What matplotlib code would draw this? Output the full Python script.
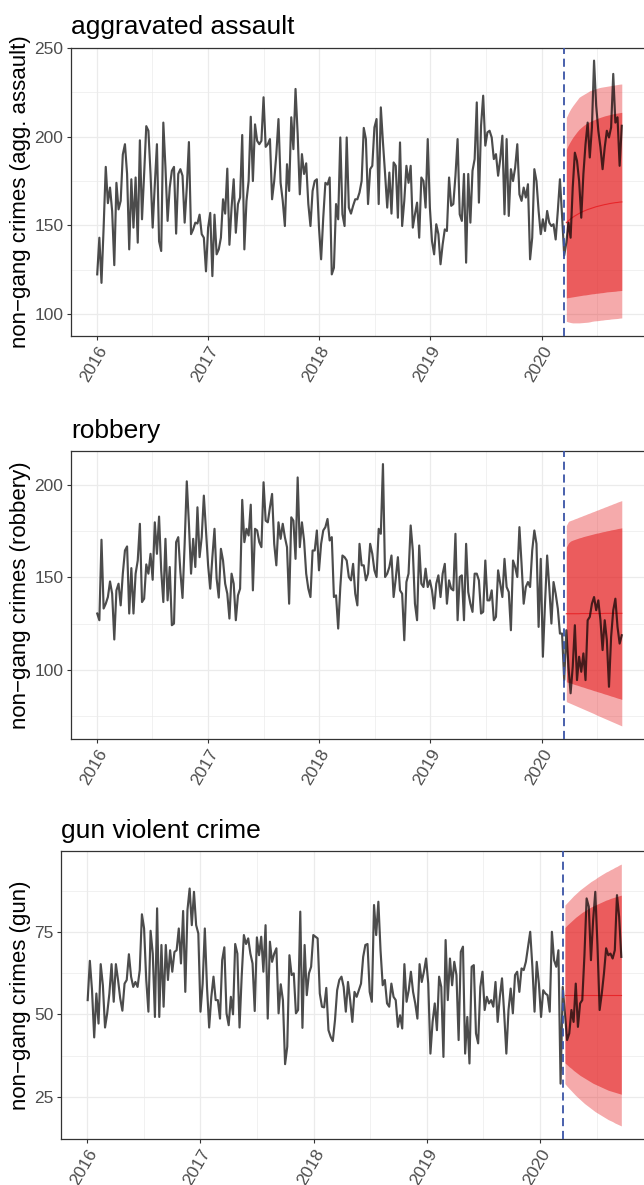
import numpy as np
import pandas as pd
import matplotlib
matplotlib.use('Agg')
import matplotlib.pyplot as plt
import matplotlib.dates as mdates

plt.rcParams['font.family'] = ['Liberation Sans', 'DejaVu Sans']

# weekly counts, 2016-01-03 .. 2020-09-20
weeks = pd.date_range('2016-01-03', periods=247, freq='7D')
fc_weeks = pd.date_range('2020-03-22', periods=27, freq='7D')
cutoff = pd.Timestamp('2020-03-15')
years = ['2016', '2017', '2018', '2019', '2020']

assault = [
    122.3, 143, 117.5, 148.7, 183, 162.5, 171.3, 158, 127.5, 174,
    159, 163.8, 190, 195.8, 179, 136.4, 176, 148.7, 177, 140.2,
    198, 153.4, 179, 206, 203.4, 179, 148.7, 173, 195.8, 141,
    135.5, 208, 182.6, 152.5, 171.3, 180.8, 183, 145.3, 179, 181.7,
    178, 151.5, 171.3, 197, 145, 147.7, 151.5, 151, 156, 145,
    143, 124, 148.7, 157, 121.3, 156, 133.6, 136.4, 143, 164.7,
    156.6, 182, 139, 160, 176, 145.8, 162, 165.7, 201, 136.4,
    163.8, 175, 211.3, 175, 207, 197.7,
    195.8, 197.7, 222.3, 194.3, 195.8, 198.7, 164.7, 175, 190.2, 210,
    174, 163.8, 149.6, 184.5, 169.4, 211, 193, 227, 201.5, 167.5,
    190.2, 179, 185, 162, 149.6, 169.4, 175, 176, 148.7, 130.8,
    154.3, 174, 173, 177, 122.3, 126, 162, 153.4, 199.6, 156.2,
    149.6, 199.6, 160, 156.6, 161, 164.7, 164.7, 168.5, 175, 205,
    198.7, 162, 181.7, 183.6, 205.3, 210, 162, 216.6, 196.8, 179,
    160, 179.8, 156.6, 185.5, 183.6, 154.3, 196.8, 149.6, 163.8, 183.6,
    174, 183.6, 148.7, 156.2, 162.8, 143, 177, 175, 160, 198.7,
    160, 141, 133.6, 150.6, 145, 128, 139.2, 147.7, 146.8, 177,
    161, 162, 178, 198.7, 156.2, 152.5, 179, 128.9, 179, 151.5,
    180.8, 187.4, 219.4, 162.8, 206.2, 223.2, 195, 202.5, 203.4, 199.6,
    187.4, 190.2, 178, 187.4, 200.6, 156.2, 198.7, 155.3, 181.7, 175,
    182.6, 195.8, 167.5, 163.8, 171.3, 165.7, 173.2, 130.8, 143, 181.7,
    175, 158.1, 145, 153.4, 146.8, 158.1, 151.5, 149.6, 150.6, 142,
    158.1, 176, 155.3, 133,
    140.2, 151.5, 143, 171.3, 191, 186.4, 175, 154.3, 179, 195.8,
    208, 188.3, 205.3, 243, 217.5, 203.4, 194, 181.7, 194, 203.4,
    199.6, 205.3, 235.5, 208, 211, 183.6, 206.2,
]
assault_mean = [151.5, 152.6, 153.6, 154.5, 155.3, 156.0, 156.7, 157.3, 157.9, 158.4,
                158.9, 159.3, 159.7, 160.1, 160.5, 160.8, 161.1, 161.4, 161.7, 161.9,
                162.2, 162.4, 162.6, 162.8, 162.9, 163.1, 163.2]
assault_hi80 = [193.0, 195.5, 197.6, 199.6, 201.2, 202.8, 204.2, 205.3, 206.3, 207.2,
                207.9, 208.5, 209.1, 209.6, 210.1, 210.6, 211.0, 211.4, 211.8, 212.1,
                212.4, 212.7, 213.0, 213.2, 213.4, 213.6, 213.8]
assault_hi95 = [210.9, 213.5, 215.7, 217.5, 219.1, 220.7, 222.3, 223.1, 223.8, 224.5,
                225.2, 226.0, 226.4, 226.8, 227.2, 227.6, 227.9, 228.1, 228.3, 228.5,
                228.7, 228.9, 229.1, 229.3, 229.5, 229.7, 229.8]
assault_lo80 = [109.0, 109.2, 109.4, 109.6, 109.8, 110.0, 110.2, 110.4, 110.6, 110.7,
                110.9, 111.1, 111.3, 111.4, 111.6, 111.7, 111.9, 112.0, 112.2, 112.4,
                112.5, 112.6, 112.7, 112.8, 113.0, 113.1, 113.2]
assault_lo95 = [95.8, 95.4, 95.1, 94.9, 94.9, 94.9, 94.9, 95.0, 95.1, 95.2,
                95.3, 95.5, 95.8, 96.0, 96.1, 96.2, 96.4, 96.5, 96.7, 96.8,
                96.9, 97.1, 97.2, 97.3, 97.4, 97.6, 97.7]

robbery = [
    130.5, 126.9, 170.3, 133.2, 135.8, 139.4, 147.8, 141.2, 116.5, 143,
    146.6, 134.9, 152, 164.5, 166.7, 130.5, 155, 130.5, 152, 159.1,
    178.9, 136.7, 138.5, 157, 152, 162.7, 148.7, 179.7, 162.7, 182.8,
    153.8, 136.7, 170.8, 137.6, 155.6, 124.2, 125.1, 169, 171.7, 152.9,
    138.9, 168.1, 201.8, 178.9, 152, 170.8, 155.6, 187.8, 160.9, 171.7,
    194.1, 175.3, 156.5, 143.9, 160.9, 176.2, 149.3, 139.1, 165.4, 159.1,
    146.6, 141.2, 127.8, 152, 146.6, 126.9, 140.3, 143.9, 191.8, 169,
    176.2, 172.6, 189.2, 143, 176.2, 175.3, 169,
    166.3, 201.3, 180.6, 179.7, 187.8, 195, 168.1, 156.5, 179.7, 170.8,
    178.9, 171.7, 166.3, 135.8, 182.4, 180.6, 160, 203.9, 166.3, 179.7,
    169.9, 152, 143.9, 139.4, 164.5, 164.5, 175.3, 153.8, 168.1, 175.3,
    177.1, 181.5, 169.9, 171.7, 139.4, 140.3, 122.4, 144.8, 161.8, 160.9,
    159.1, 150.2, 148.4, 157.3, 141.2, 134.9, 168.1, 156.5, 156.5, 148.4,
    152, 168.1, 162.7, 153.8, 150.2, 176.2, 173.5, 211.1, 150.2, 152,
    155.6, 161.8, 139.4, 149.3, 160.9, 143, 141.2, 116.1, 147.5, 152,
    178, 164.5, 135.8, 126.9, 167.2, 146.6, 144.8, 154.7, 144.8, 148.4,
    143, 133.2, 146.6, 151.1, 139.4, 152, 157.3, 135.8, 148.4,
    143.9, 143, 173.5, 126.9, 150.2, 151.1, 126.9, 168.1, 142.1, 135.8,
    131.4, 152, 152, 148.4, 130.5, 131.4, 159.1, 137.6, 137.6, 143,
    126.9, 128.7, 153.8, 146.6, 139.4, 160, 144.8, 142.1, 121.5, 159.1,
    155.6, 150.2, 177.1, 157.3, 135.8, 144.8, 147.5, 144.8, 164.5, 175.3,
    168.1, 123.3, 160, 107.2, 135.8, 161.8, 144.8, 125.1, 147.5, 141.2,
    133.2, 119.7, 119.7, 94.6,
    121.5, 101.8, 87.5, 101.8, 124.2, 94.6, 107.2, 99.1, 109, 94.6,
    126.9, 128.7, 135.8, 139.4, 132.3, 137.6, 126.9, 110.8, 126.9, 116.1,
    91, 117.9, 132.3, 138.5, 123.3, 114.3, 118.8,
]
robbery_mean = [130.4, 130.4, 130.4, 130.4, 130.4, 130.4, 130.4, 130.5, 130.5, 130.5,
                130.5, 130.5, 130.5, 130.5, 130.5, 130.5, 130.5, 130.5, 130.6, 130.6,
                130.6, 130.6, 130.6, 130.6, 130.6, 130.6, 130.6]
robbery_hi80 = [166.3, 168.6, 169.6, 170.1, 170.5, 170.9, 171.3, 171.6, 172.0, 172.3,
                172.6, 172.9, 173.2, 173.5, 173.8, 174.0, 174.3, 174.6, 174.8, 175.1,
                175.3, 175.6, 175.8, 176.0, 176.3, 176.5, 176.7]
robbery_hi95 = [178.0, 180.2, 180.7, 181.1, 181.6, 182.0, 182.5, 182.9, 183.4, 183.8,
                184.3, 184.7, 185.2, 185.6, 186.1, 186.5, 187.0, 187.4, 187.9, 188.3,
                188.8, 189.2, 189.7, 190.1, 190.6, 191.0, 191.4]
robbery_lo80 = [93.7, 93.3, 93.0, 92.6, 92.2, 91.9, 91.5, 91.1, 90.8, 90.4,
                90.0, 89.7, 89.3, 88.9, 88.6, 88.2, 87.9, 87.5, 87.1, 86.8,
                86.4, 86.0, 85.7, 85.3, 84.9, 84.6, 84.2]
robbery_lo95 = [83.0, 82.5, 82.0, 81.5, 81.0, 80.5, 80.0, 79.5, 79.0, 78.5,
                78.0, 77.5, 77.0, 76.5, 75.9, 75.4, 74.9, 74.4, 73.9, 73.4,
                72.9, 72.4, 71.9, 71.4, 70.9, 70.4, 69.9]

gun = [
    54.3, 66.2, 57.3, 43, 56.3, 47.2, 65.2, 58.8, 46, 50.3,
    56.3, 65.2, 53.8, 65.2, 60.4, 54.8, 51.1, 59.3, 60.4, 68.2,
    61.4, 58.3, 59.8, 58.3, 63.4, 80.3, 76, 60.4, 50.8, 75.3,
    68.4, 49.2, 82.1, 49.2, 71, 52.3, 71, 60.4, 69.4, 62.9,
    68.9, 69.4, 76, 65.4, 81.3, 56.8, 81.6, 88.1, 77, 87.1,
    77, 74.5, 50.8, 59.3, 76, 58.3, 46, 55.3, 61.4, 54.3,
    54.3, 48.7, 66.4, 70.3, 50.3, 46.7, 55.3, 50, 71.3, 68.4,
    46, 61.6, 74, 71.3, 73, 68.4, 65.4, 51,
    73.3, 67.9, 73.5, 62.9, 77, 48.7, 72, 65.9, 68.4, 70,
    50.3, 59.1, 54.3, 34.9, 40.2, 67.9, 61.9, 62.4, 50.3, 51.3,
    81.1, 45.9, 71, 55.8, 62.4, 64.4, 74, 73.5, 73, 56.3,
    52.3, 52.1, 58, 45.2, 43.2, 41.9, 48.2, 57.3, 60.4, 61.4,
    58.3, 50.8, 59.8, 54.3, 47.7, 56.8, 55.3, 57.3, 59.3, 67.4,
    71, 71.3, 56.8, 53.8, 83.1, 74, 84.1, 69.4, 58.8, 60.4,
    53.3, 52.3, 59.3, 55.3, 54.3, 46.2, 49.7, 45.7, 65.2, 53.8,
    57.3, 62.9, 56.8, 53.3, 48.7, 65.2, 59.8, 62.9, 66.9, 59.3,
    38.1, 47.7, 53.3, 45.2, 61.4, 58.3, 37.1,
    72.5, 54.3, 66.9, 58.8, 65.9, 61.9, 42.2, 68.9, 70.5, 38.1,
    49.2, 35.1, 64.4, 64.9, 44.2, 41.2, 58.3, 62.9, 51.3, 55.3,
    53.3, 54.3, 52.3, 59.8, 47.7, 55.3, 60.9, 50.3, 38.1, 51.3,
    57.8, 50.3, 61.9, 62.9, 56.8, 63.9, 63.4, 65.9, 70.5, 75,
    64.4, 50.8, 65.9, 59.3, 49.2, 57.3, 56.3, 55.8, 50.8, 75,
    66.4, 64.4, 69.4, 29,
    58.3, 50.3, 42.2, 44.2, 51.3, 47.7, 59.3, 46.2, 53.3, 54.3,
    67.9, 85.1, 82.6, 66.4, 78.5, 87.1, 71, 51.3, 56.3, 62.4,
    70, 67.9, 68.4, 66.9, 69.4, 86.1, 79.5, 67.4,
]
gun_mean = [56.0, 56.0, 56.0, 56.0, 56.0, 56.0, 56.0, 56.0, 56.0, 56.0,
            56.0, 56.0, 56.0, 56.0, 56.0, 56.0, 56.0, 56.0, 56.0, 56.0,
            56.0, 56.0, 56.0, 56.0, 56.0, 56.0, 56.0]
gun_hi80 = [76.3, 77.0, 77.6, 78.2, 78.8, 79.4, 79.9, 80.4, 80.9, 81.3,
            81.7, 82.1, 82.5, 82.8, 83.1, 83.4, 83.7, 84.0, 84.3, 84.6,
            84.8, 85.1, 85.3, 85.5, 85.7, 85.9, 86.1]
gun_hi95 = [83.1, 83.8, 84.5, 85.2, 85.9, 86.5, 87.1, 87.7, 88.2, 88.7,
            89.2, 89.7, 90.2, 90.6, 91.0, 91.5, 91.9, 92.3, 92.7, 93.1,
            93.4, 93.8, 94.1, 94.5, 94.8, 95.2, 95.5]
gun_lo80 = [35.3, 34.7, 34.1, 33.6, 33.0, 32.5, 32.0, 31.5, 31.1, 30.7,
            30.3, 29.9, 29.5, 29.1, 28.8, 28.5, 28.2, 27.9, 27.6, 27.3,
            27.0, 26.8, 26.6, 26.4, 26.2, 26.0, 25.8]
gun_lo95 = [29.0, 28.2, 27.5, 26.8, 26.1, 25.4, 24.8, 24.2, 23.6, 23.0,
            22.5, 22.0, 21.5, 21.0, 20.5, 20.1, 19.7, 19.3, 18.9, 18.5,
            18.1, 17.8, 17.5, 17.1, 16.8, 16.5, 16.2]

for s in (assault, robbery, gun):
    assert len(s) == len(weeks), len(s)

W, H = 644, 1185
fig = plt.figure(figsize=(W / 100, H / 100), dpi=100)

def px_rect(left, top, right, bottom):
    return [left / W, 1 - bottom / H, (right - left) / W, (bottom - top) / H]

panels = [
    ('aggravated assault', 'non\u2212gang crimes (agg. assault)', assault,
     assault_mean, assault_lo80, assault_hi80, assault_lo95, assault_hi95,
     [100, 150, 200, 250], [125, 175, 225], px_rect(71, 47.5, 648, 336)),
    ('robbery', 'non\u2212gang crimes (robbery)', robbery,
     robbery_mean, robbery_lo80, robbery_hi80, robbery_lo95, robbery_hi95,
     [100, 150, 200], [75, 125, 175], px_rect(71, 451, 648, 739)),
    ('gun violent crime', 'non\u2212gang crimes (gun)', gun,
     gun_mean, gun_lo80, gun_hi80, gun_lo95, gun_hi95,
     [25, 50, 75], [37.5, 62.5, 87.5], px_rect(61, 851, 648, 1139)),
]

x0 = mdates.date2num(weeks[0])
x1 = mdates.date2num(weeks[-1])
xpad = 0.05 * (x1 - x0)
year_ticks = [pd.Timestamp(y + '-01-01') for y in years]
half_ticks = [pd.Timestamp(y + '-07-02') for y in years]

for title, ylab, series, fmean, lo80, hi80, lo95, hi95, yt, ymin_t, rect in panels:
    ax = fig.add_axes(rect)
    ax.set_axisbelow(True)

    ax.fill_between(fc_weeks, lo95, hi95, color='#E41A1C', alpha=0.37, lw=0)
    ax.fill_between(fc_weeks, lo80, hi80, color='#E41A1C', alpha=0.54, lw=0)
    ax.plot(fc_weeks, fmean, color='#E8262A', lw=0.8)
    ax.plot(weeks, series, color='black', alpha=0.7, lw=1.55)
    ax.axvline(cutoff, color='#3A54A6', lw=1.3, dashes=(4.5, 2.6), zorder=5)

    lo = min(min(series), min(lo95))
    hi = max(max(series), max(hi95))
    ypad = 0.05 * (hi - lo)
    ax.set_ylim(lo - ypad, hi + ypad)
    ax.set_xlim(x0 - xpad, x1 + xpad)

    ax.set_yticks(yt)
    ax.set_yticks(ymin_t, minor=True)
    ax.set_xticks(year_ticks)
    ax.set_xticks(half_ticks, minor=True)
    ax.set_xticklabels(years)
    ax.grid(True, which='major', color='#EBEBEB', lw=0.9)
    ax.grid(True, which='minor', color='#EBEBEB', lw=0.5)
    ax.tick_params(which='major', direction='out', length=3, width=0.8,
                   color='#333333', labelcolor='#4D4D4D', labelsize=12.5, pad=2.5)
    ax.tick_params(which='minor', length=0)
    for lab in ax.get_xticklabels():
        lab.set_rotation(60)
        lab.set_ha('right')
        lab.set_va('top')
        lab.set_rotation_mode('anchor')
    for sp in ax.spines.values():
        sp.set_color('#333333')
        sp.set_linewidth(0.9)

    ax.set_title(title, loc='left', fontsize=19, pad=9.5, color='black')
    cy = 1 - (rect[1] + rect[3] / 2)
    fig.text(21 / W, 1 - cy, ylab, rotation=90, ha='center', va='center', fontsize=16)

fig.savefig('out.png', dpi=100)
